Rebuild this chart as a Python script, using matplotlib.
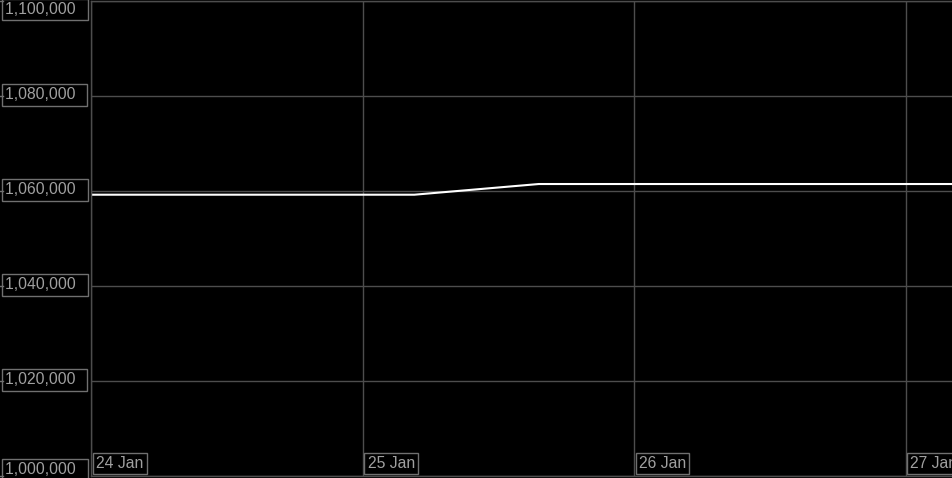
import matplotlib
matplotlib.use("Agg")
import matplotlib.pyplot as plt
import matplotlib.dates as mdates
import matplotlib.transforms as mtrans
from datetime import datetime

# Data
times = ["2024-01-24 00:00", "2024-01-25 04:35", "2024-01-25 15:35", "2024-01-27 04:15"]
values = [1059220, 1059220, 1061470, 1061470]
y_ticks = [1000000, 1020000, 1040000, 1060000, 1080000, 1100000]
y_labels = ["1,000,000", "1,020,000", "1,040,000", "1,060,000", "1,080,000", "1,100,000"]
x_ticks = ["2024-01-24", "2024-01-25", "2024-01-26", "2024-01-27"]
x_labels = ["24 Jan", "25 Jan", "26 Jan", "27 Jan"]

t = [datetime.strptime(s, "%Y-%m-%d %H:%M") for s in times]
xt = [datetime.strptime(s, "%Y-%m-%d") for s in x_ticks]

W, H = 953, 478
fig = plt.figure(figsize=(W / 100, H / 100), dpi=100, facecolor="black")
ax = fig.add_axes([91 / W, 2 / H, 862 / W, 475 / H])
ax.set_facecolor("black")

grid_c = "#4d4d4d"
text_c = "#a0a0a0"
box_c = "#707070"
font = "Liberation Sans"
fs = 11.3

ax.plot(t, values, color="white", lw=1.5, solid_joinstyle="miter")

x0 = mdates.date2num(xt[0])
x1 = x0 + (953 - 91) / 271.5
ax.set_xlim(x0, x1)
ax.set_ylim(1000000, 1100000)

ax.set_xticks(xt)
ax.set_yticks(y_ticks)
ax.set_xticklabels([])
ax.set_yticklabels([])
ax.tick_params(length=0)
ax.grid(True, color=grid_c, lw=1)
for s in ["top", "bottom", "left"]:
    ax.spines[s].set_color(grid_c)
    ax.spines[s].set_linewidth(1)
ax.spines["right"].set_visible(False)

# small tick stubs at far left
blend = mtrans.blended_transform_factory(fig.transFigure, ax.transData)
for v in y_ticks:
    fig.add_artist(plt.Line2D([0, 3 / W], [v, v], transform=blend, color=box_c, lw=1))

# y labels (boxed, left side)
for v, lab in zip(y_ticks, y_labels):
    va = "center"
    dy = 1
    if v == y_ticks[-1]:
        va, dy = "top", -1
    elif v == y_ticks[0]:
        va, dy = "bottom", -1
    ax.annotate(lab + "  ", xy=(0, v), xycoords=("axes fraction", "data"),
                xytext=(-86, dy), textcoords="offset pixels",
                ha="left", va=va, color=text_c, fontsize=fs, family=font,
                annotation_clip=False,
                bbox=dict(boxstyle="square,pad=0.2", fc="black", ec=box_c, lw=1))

# x labels (boxed, bottom)
for d, lab in zip(xt, x_labels):
    ax.annotate(lab, xy=(d, 0), xycoords=("data", "axes fraction"),
                xytext=(5, 5), textcoords="offset pixels",
                ha="left", va="bottom", color=text_c, fontsize=fs, family=font,
                annotation_clip=False,
                bbox=dict(boxstyle="square,pad=0.2", fc="black", ec=box_c, lw=1))

fig.savefig("out.png", dpi=100, facecolor="black")
